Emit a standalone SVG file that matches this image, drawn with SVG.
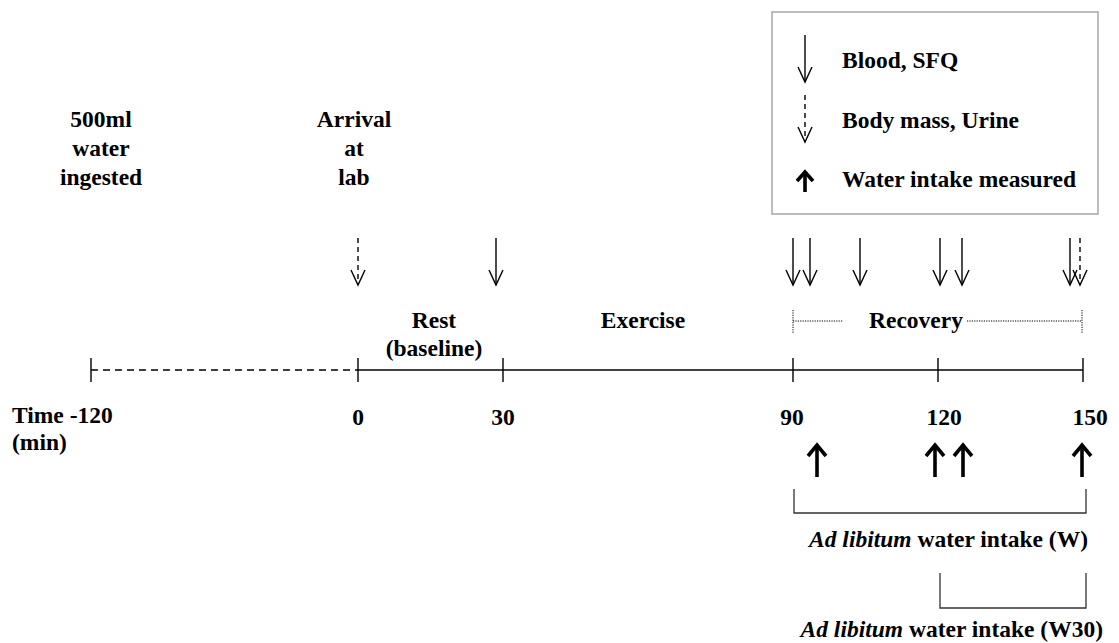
<svg xmlns="http://www.w3.org/2000/svg" width="1119" height="643" viewBox="0 0 1119 643">
<style>
text{font-family:"Liberation Serif","Times New Roman",serif;font-weight:bold;font-size:23.5px;fill:#000}
.c{text-anchor:middle}
.e{text-anchor:end}
.it{font-style:italic}
.ln{stroke:#000;stroke-width:1.4;fill:none}
.dash{stroke:#000;stroke-width:1.4;fill:none;stroke-dasharray:5,4}
.tdash{stroke:#000;stroke-width:1.4;fill:none;stroke-dasharray:7,5}
.dot{stroke:#000;stroke-width:1;fill:none;stroke-dasharray:1.2,1.2}
.head{stroke:#000;stroke-width:1.4;fill:none}
.bold{stroke:#000;stroke-width:3.6;fill:none}
.br{stroke:#333;stroke-width:1.3;fill:none}
</style>
<rect width="1119" height="643" fill="#fff"/>
<g id="legend">
<rect x="772" y="12" width="326" height="202" fill="#fff" stroke="#a6a6a6" stroke-width="1.5"/>
<line class="ln" x1="805" y1="35" x2="805" y2="82"/>
<polyline class="head" points="798,67 805,82 812,67"/>
<text x="842" y="68">Blood, SFQ</text>
<line class="dash" x1="805" y1="95" x2="805" y2="142"/>
<polyline class="head" points="798,127 805,142 812,127"/>
<text x="842" y="128">Body mass, Urine</text>
<line class="bold" x1="805" y1="173" x2="805" y2="192"/>
<polyline class="bold" points="797,181 805,172 813,181"/>
<text x="842" y="187">Water intake measured</text>
</g>
<g id="label-500ml">
<text class="c" x="101" y="127">500ml</text>
<text class="c" x="101" y="156">water</text>
<text class="c" x="101" y="185">ingested</text>
</g>
<g id="label-arrival">
<text class="c" x="354" y="127">Arrival</text>
<text class="c" x="354" y="156">at</text>
<text class="c" x="354" y="185">lab</text>
</g>
<g id="phase-rest">
<text class="c" x="434" y="328">Rest</text>
<text class="c" x="434" y="356">(baseline)</text>
</g>
<g id="phase-exercise">
<text class="c" x="643" y="328">Exercise</text>
</g>
<g id="phase-recovery">
<line class="dot" x1="793" y1="310" x2="793" y2="333"/>
<line class="dot" x1="793" y1="321" x2="843" y2="321"/>
<text class="c" x="916" y="328">Recovery</text>
<line class="dot" x1="967" y1="321" x2="1082" y2="321"/>
<line class="dot" x1="1082" y1="310" x2="1082" y2="333"/>
</g>
<g id="timeline">
<line class="tdash" x1="91" y1="370" x2="358" y2="370"/>
<line class="ln" x1="358" y1="370" x2="1083" y2="370"/>
<line class="ln" x1="91" y1="358" x2="91" y2="382"/>
<line class="ln" x1="358" y1="358" x2="358" y2="382"/>
<line class="ln" x1="503" y1="358" x2="503" y2="382"/>
<line class="ln" x1="793" y1="358" x2="793" y2="382"/>
<line class="ln" x1="938" y1="358" x2="938" y2="382"/>
<line class="ln" x1="1083" y1="358" x2="1083" y2="382"/>
</g>
<g id="time-labels">
<text x="12" y="423">Time -120</text>
<text x="12" y="450">(min)</text>
<text class="c" x="358" y="425">0</text>
<text class="c" x="503" y="425">30</text>
<text class="c" x="792" y="425">90</text>
<text class="c" x="944" y="425">120</text>
<text class="c" x="1090" y="425">150</text>
</g>
<g id="connectors">
<line class="dash" x1="358" y1="238" x2="358" y2="285"/>
<polyline class="head" points="351,270 358,285 365,270"/>
<line class="ln" x1="496" y1="238" x2="496" y2="285"/>
<polyline class="head" points="489,270 496,285 503,270"/>
<line class="ln" x1="793" y1="238" x2="793" y2="285"/>
<polyline class="head" points="786,270 793,285 800,270"/>
<line class="ln" x1="810" y1="238" x2="810" y2="285"/>
<polyline class="head" points="803,270 810,285 817,270"/>
<line class="ln" x1="860" y1="238" x2="860" y2="285"/>
<polyline class="head" points="853,270 860,285 867,270"/>
<line class="ln" x1="940" y1="238" x2="940" y2="285"/>
<polyline class="head" points="933,270 940,285 947,270"/>
<line class="ln" x1="962" y1="238" x2="962" y2="285"/>
<polyline class="head" points="955,270 962,285 969,270"/>
<line class="ln" x1="1070" y1="238" x2="1070" y2="285"/>
<polyline class="head" points="1063,270 1070,285 1077,270"/>
<line class="dash" x1="1080" y1="238" x2="1080" y2="285"/>
<polyline class="head" points="1073,270 1080,285 1087,270"/>
<line class="bold" x1="817" y1="446" x2="817" y2="477"/>
<polyline class="bold" points="808,456 817,445 826,456"/>
<line class="bold" x1="935" y1="446" x2="935" y2="477"/>
<polyline class="bold" points="926,456 935,445 944,456"/>
<line class="bold" x1="963" y1="446" x2="963" y2="477"/>
<polyline class="bold" points="954,456 963,445 972,456"/>
<line class="bold" x1="1082" y1="446" x2="1082" y2="477"/>
<polyline class="bold" points="1073,456 1082,445 1091,456"/>
</g>
<g id="bracket-w">
<polyline class="br" points="794,489 794,513 1086,513 1086,489"/>
<text class="e" x="1088" y="547"><tspan class="it">Ad libitum</tspan> water intake (W)</text>
</g>
<g id="bracket-w30">
<polyline class="br" points="940,573 940,608 1086,608 1086,573"/>
<text class="e" x="1103" y="637"><tspan class="it">Ad libitum</tspan> water intake (W30)</text>
</g>
</svg>
